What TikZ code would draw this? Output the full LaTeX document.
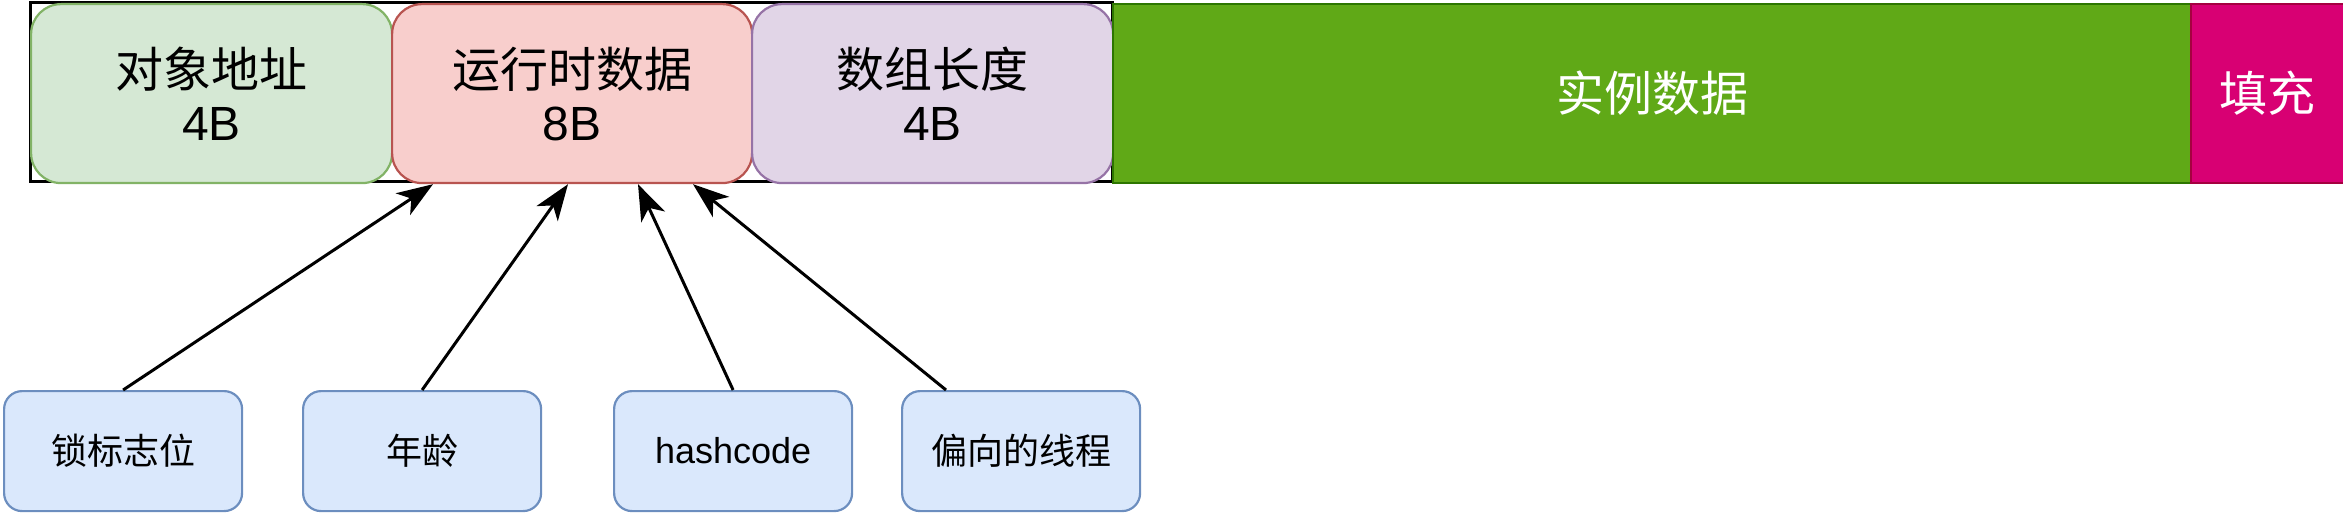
\documentclass[tikz,border=0pt]{standalone}
\usepackage{fontspec}
\setmainfont{Noto Sans CJK SC}
\newfontfamily\latinfont{Liberation Sans}
\usetikzlibrary{arrows.meta,calc}
\definecolor{gfill}{HTML}{D5E8D4}\definecolor{gdraw}{HTML}{82B366}
\definecolor{rfill}{HTML}{F8CECC}\definecolor{rdraw}{HTML}{B85450}
\definecolor{pfill}{HTML}{E1D5E7}\definecolor{pdraw}{HTML}{9673A6}
\definecolor{dgfill}{HTML}{60A917}\definecolor{dgdraw}{HTML}{2D7600}
\definecolor{mfill}{HTML}{D80073}\definecolor{mdraw}{HTML}{A50040}
\definecolor{bfill}{HTML}{DAE8FC}\definecolor{bdraw}{HTML}{6C8EBF}
\begin{document}
\begin{tikzpicture}[x=0.5pt,y=-0.5pt,
  topbox/.style={rounded corners=15pt, line width=1.1pt, inner sep=0pt, align=center,
    font=\fontsize{24}{26.5}\selectfont, anchor=north west, minimum height=89.5pt},
  flatbox/.style={line width=1.1pt, inner sep=0pt, align=center, text=white,
    font=\fontsize{24}{26.5}\selectfont, anchor=north west, minimum height=89.5pt},
  botbox/.style={rounded corners=9pt, line width=1.1pt, inner sep=0pt, align=center,
    fill=bfill, draw=bdraw, font=\fontsize{18}{20}\selectfont, anchor=north west,
    minimum width=119pt, minimum height=60pt},
  arr/.style={-{Stealth[length=18pt,width=13pt,inset=5pt]}, line width=1.5pt, black}]
\useasboundingbox (0,0) rectangle (2343,513);
\draw[line width=1.5pt] (30,3) rectangle (1112,182);
\node[topbox, fill=gfill, draw=gdraw, minimum width=180.5pt] (addr) at (30,3) {对象地址\\{\latinfont 4B}};
\node[topbox, fill=rfill, draw=rdraw, minimum width=180pt] (rt) at (391,3) {运行时数据\\{\latinfont 8B}};
\node[topbox, fill=pfill, draw=pdraw, minimum width=180.5pt] (len) at (751,3) {数组长度\\{\latinfont 4B}};
\node[flatbox, fill=dgfill, draw=dgdraw, minimum width=539pt] (inst) at (1112,3) {实例数据};
\node[flatbox, fill=mfill, draw=mdraw, minimum width=76.5pt] (pad) at (2190,3) {填充};
\node[botbox] (lock) at (3,390) {锁标志位};
\node[botbox] (age) at (302,390) {年龄};
\node[botbox] (hash) at (613,390) {\latinfont hashcode};
\node[botbox] (bias) at (901,390) {偏向的线程};
\draw[arr] (lock.north) -- ($(rt.south west)+(42,0)$);
\draw[arr] (age.north) -- ($(rt.south west)+(177,0)$);
\draw[arr] (hash.north) -- ($(rt.south west)+(247,0)$);
\draw[arr] ($(bias.north west)+(45,0)$) -- ($(rt.south west)+(302,0)$);
\end{tikzpicture}
\end{document}
